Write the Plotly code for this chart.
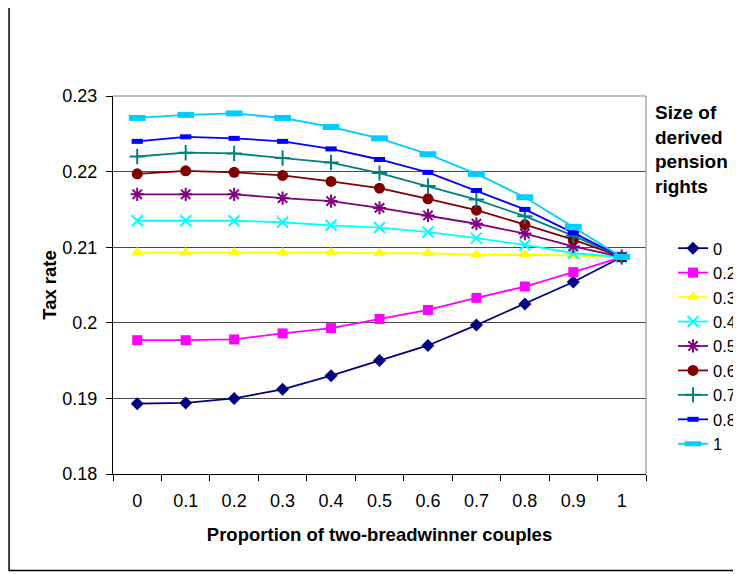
import plotly.graph_objects as go

# ---- data ----
x_labels = ["0", "0.1", "0.2", "0.3", "0.4", "0.5", "0.6", "0.7", "0.8", "0.9", "1"]
series_names = ["0", "0.2", "0.3", "0.4", "0.5", "0.6", "0.7", "0.8", "1"]

s_0   = [0.1893, 0.1894, 0.1900, 0.1912, 0.1930, 0.1950, 0.1970, 0.1997, 0.2025, 0.2054, 0.2087]
s_0_2 = [0.1977, 0.1977, 0.1978, 0.1986, 0.1993, 0.2005, 0.2017, 0.2033, 0.2048, 0.2067, 0.2087]
s_0_3 = [0.2093, 0.2093, 0.2093, 0.2093, 0.2093, 0.2092, 0.2092, 0.2090, 0.2090, 0.2089, 0.2087]
s_0_4 = [0.2135, 0.2135, 0.2135, 0.2133, 0.2129, 0.2126, 0.2120, 0.2112, 0.2103, 0.2092, 0.2087]
s_0_5 = [0.2170, 0.2170, 0.2170, 0.2165, 0.2161, 0.2152, 0.2142, 0.2131, 0.2118, 0.2101, 0.2087]
s_0_6 = [0.2197, 0.2201, 0.2199, 0.2195, 0.2187, 0.2178, 0.2164, 0.2149, 0.2130, 0.2110, 0.2087]
s_0_7 = [0.2220, 0.2225, 0.2224, 0.2218, 0.2212, 0.2198, 0.2181, 0.2163, 0.2141, 0.2115, 0.2087]
s_0_8 = [0.2240, 0.2246, 0.2244, 0.2240, 0.2230, 0.2216, 0.2199, 0.2175, 0.2150, 0.2119, 0.2087]
s_1   = [0.2271, 0.2275, 0.2277, 0.2271, 0.2259, 0.2244, 0.2223, 0.2197, 0.2166, 0.2127, 0.2087]

series_values = [s_0, s_0_2, s_0_3, s_0_4, s_0_5, s_0_6, s_0_7, s_0_8, s_1]

y_tickvals = [0.18, 0.19, 0.20, 0.21, 0.22, 0.23]
y_ticktext = ["0.18", "0.19", "0.2", "0.21", "0.22", "0.23"]

x_title = "Proportion of two-breadwinner couples"
y_title = "Tax rate"
legend_title = "Size of<br>derived<br>pension<br>rights"

# ---- styles ----
styles = [
    dict(color="#000080", marker=dict(symbol="diamond", size=10, color="#000080")),
    dict(color="#FF00FF", marker=dict(symbol="square", size=10, color="#FF00FF")),
    dict(color="#FFFF00", marker=dict(symbol="triangle-up", size=11, color="#FFFF00")),
    dict(color="#00FFFF", marker=dict(symbol="x-thin", size=11, color="#00FFFF",
                                      line=dict(color="#00FFFF", width=2))),
    dict(color="#800080", marker=dict(symbol="asterisk", size=11, color="#800080",
                                      line=dict(color="#800080", width=2))),
    dict(color="#800000", marker=dict(symbol="circle", size=11, color="#800000")),
    dict(color="#008080", marker=dict(symbol="cross-thin", size=11, color="#008080",
                                      line=dict(color="#008080", width=2))),
    dict(color="#0000FF", marker=dict(symbol="line-ew", size=8, color="#0000FF",
                                      line=dict(color="#0000FF", width=5))),
    dict(color="#00CCFF", marker=dict(symbol="line-ew", size=12, color="#00CCFF",
                                      line=dict(color="#00CCFF", width=6))),
]

fig = go.Figure()
for name, vals, st in zip(series_names, series_values, styles):
    fig.add_trace(go.Scatter(
        x=x_labels, y=vals, name=name, mode="lines+markers",
        line=dict(color=st["color"], width=1.8),
        marker=st["marker"],
    ))

FONT = "Liberation Sans, Arial, sans-serif"

# The page body adds an 8px offset, so the figure is 8px smaller than the window.
fig.update_layout(
    width=733, height=566,
    margin=dict(l=105, r=95, t=88, b=99.5, autoexpand=False),
    paper_bgcolor="white", plot_bgcolor="white",
    font=dict(family=FONT, color="black", size=18),
    showlegend=True,
    legend=dict(
        x=1.0507, y=0.643, xanchor="left", yanchor="top",
        font=dict(size=16.5, family=FONT),
        bgcolor="rgba(0,0,0,0)", borderwidth=0,
        tracegroupgap=0,
    ),
    xaxis=dict(
        type="category", range=[-0.5, 10.5],
        tickson="boundaries", ticks="outside", ticklen=6, tickcolor="black",
        showline=True, linecolor="black", linewidth=1,
        showgrid=False, zeroline=False,
        tickfont=dict(size=18), ticklabelstandoff=10,
        title=dict(text="<b>" + x_title + "</b>", font=dict(size=18.5), standoff=18),
    ),
    yaxis=dict(
        range=[0.18, 0.23], tickvals=y_tickvals, ticktext=y_ticktext,
        ticks="outside", ticklen=6, tickcolor="black",
        showline=True, linecolor="black", linewidth=1,
        showgrid=True, gridcolor="#4a4a4a", gridwidth=1, zeroline=False,
        tickfont=dict(size=18), ticklabelstandoff=5,
        title=dict(text="<b>" + y_title + "</b>", font=dict(size=18.5), standoff=0),
    ),
    shapes=[
        # plot area top & right border (gray)
        dict(type="line", xref="paper", yref="paper", x0=0, x1=1, y0=1, y1=1,
             line=dict(color="#808080", width=1)),
        dict(type="line", xref="paper", yref="paper", x0=1, x1=1, y0=0, y1=1,
             line=dict(color="#808080", width=1)),
        # outer chart frame
        dict(type="rect", xref="paper", yref="paper",
             x0=-0.195, x1=1.1707, y0=-0.255, y1=1.24,
             line=dict(color="black", width=1.5)),
    ],
    annotations=[
        dict(text="<b>" + legend_title + "</b>", xref="paper", yref="paper",
             x=1.0135, y=0.990, xanchor="left", yanchor="top", align="left",
             showarrow=False, font=dict(size=19, family=FONT)),
    ],
)

fig.write_html("out.html")
